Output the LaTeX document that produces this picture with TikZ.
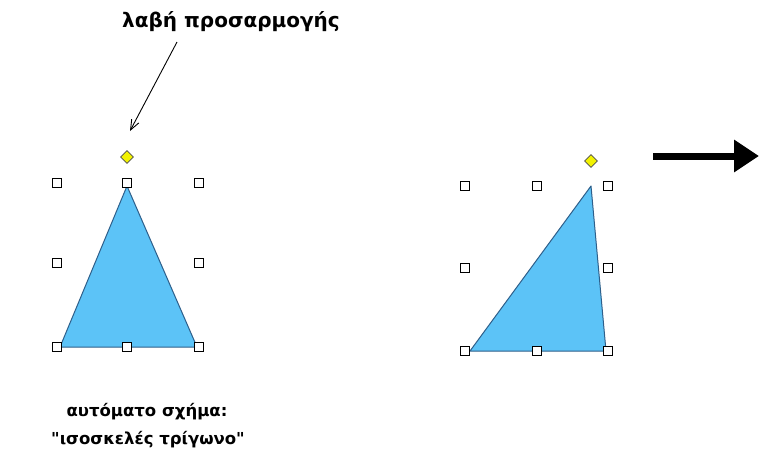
\documentclass[tikz,border=0pt]{standalone}
\usepackage{fontspec}
\setmainfont{DejaVu Sans}[Ligatures=TeXOff]
\usetikzlibrary{arrows.meta,shapes.geometric}
\definecolor{tri}{HTML}{5CC3F7}
\definecolor{triline}{HTML}{2E5F8A}
\definecolor{handley}{HTML}{F2F200}
\tikzset{
  hnd/.style={draw=black,fill=white,line width=1.3pt,minimum size=9.5pt,inner sep=0pt,rectangle},
  adj/.style={draw=black!70,fill=handley,line width=0.7pt,diamond,minimum size=13pt,inner sep=0pt},
  lbl/.style={font=\bfseries,inner sep=0pt},
  tristyle/.style={fill=tri,draw=triline,line width=1pt,line join=round}
}
\begin{document}
\begin{tikzpicture}[x=1pt,y=-1pt]
\useasboundingbox (0,0) rectangle (759,459);
% left triangle
\coordinate (LA) at (127,186);
\coordinate (LB) at (60,347);
\coordinate (LC) at (197,347);
\fill[tristyle] (LA) -- (LB) -- (LC) -- cycle;
\node[hnd] (l1) at (57,183) {};
\node[hnd] (l2) at (127,183) {};
\node[hnd] (l3) at (199,183) {};
\node[hnd] (l4) at (57,263) {};
\node[hnd] (l5) at (199,263) {};
\node[hnd] (l6) at (57,347) {};
\node[hnd] (l7) at (127,347) {};
\node[hnd] (l8) at (199,347) {};
\node[adj] (ld) at (127,157) {};
% right triangle
\coordinate (RA) at (591,186);
\coordinate (RB) at (470,351);
\coordinate (RC) at (606,351);
\fill[tristyle] (RA) -- (RB) -- (RC) -- cycle;
\node[hnd] (r1) at (465,186) {};
\node[hnd] (r2) at (537,186) {};
\node[hnd] (r3) at (608,186) {};
\node[hnd] (r4) at (465,268) {};
\node[hnd] (r5) at (608,268) {};
\node[hnd] (r6) at (465,351) {};
\node[hnd] (r7) at (537,351) {};
\node[hnd] (r8) at (608,351) {};
\node[adj] (rd) at (591,161) {};
% labels
\node[lbl,font=\bfseries\fontsize{20}{22}\selectfont] (top) at (231,22) {λαβή προσαρμογής};
\node[lbl,font=\bfseries\fontsize{16.5}{18}\selectfont] (b1) at (147,412) {αυτόματο σχήμα:};
\node[lbl,font=\bfseries\fontsize{16.5}{18}\selectfont] (b2) at (148,440) {"ισοσκελές τρίγωνο"};
\coordinate (pt) at (130,131);
\draw[line width=0.9pt,-{Straight Barb[length=10pt,width=8pt]}] (177,42) -- (pt);
% big arrow
\coordinate (as) at (653,156);
\coordinate (ae) at (759,156);
\draw[line width=7pt,-{Triangle[length=25pt,width=31pt]}] (as) -- (ae);
\end{tikzpicture}
\end{document}
